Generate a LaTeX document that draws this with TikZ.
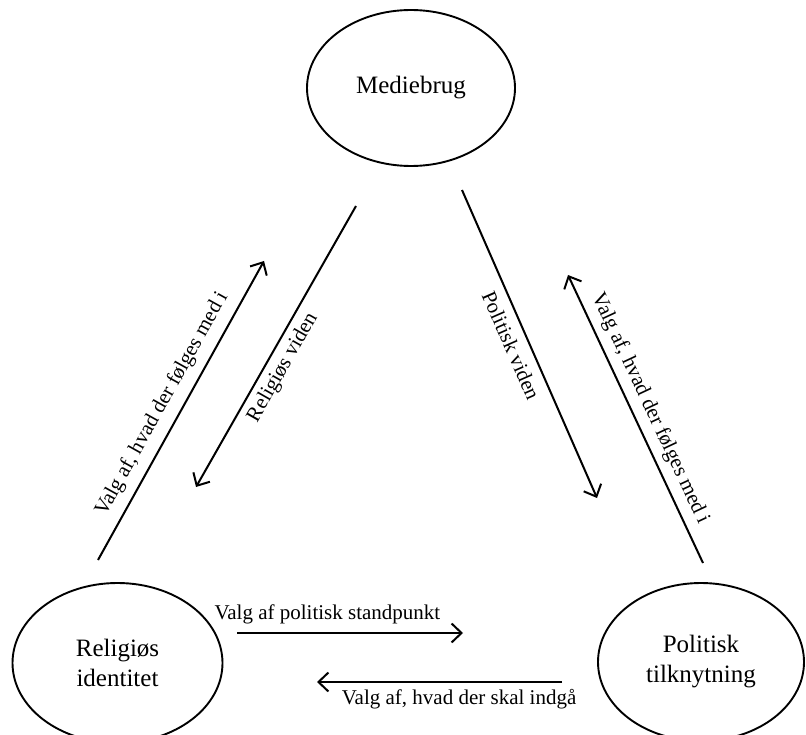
\documentclass[tikz,border=0pt]{standalone}
\usepackage{fontspec}
\setmainfont{Liberation Serif}
\usetikzlibrary{shapes.geometric,arrows.meta}
\begin{document}
\begin{tikzpicture}[x=1pt,y=-1pt,
  ell/.style={draw,ellipse,line width=1.9pt,inner sep=0pt,align=center,font=\fontsize{25}{30}\selectfont},
  conn/.style={line width=2pt},
  tipend/.style={-{Straight Barb[length=10pt,width=19pt]}},
  lbl/.style={font=\fontsize{21}{25}\selectfont,inner xsep=0pt,sloped}
]
\useasboundingbox (0,0) rectangle (806,735);
\node[ell,minimum width=208pt,minimum height=156pt] (med) at (411,88) {Mediebrug};
\node[ell,minimum width=210pt,minimum height=160pt] (rel) at (117.5,663) {Religiøs\\identitet};
\node[ell,minimum width=206pt,minimum height=158pt] (pol) at (701,662) {Politisk\\tilknytning};

\coordinate (a1) at (98,560);  \coordinate (b1) at (264,261);
\coordinate (a2) at (356,206); \coordinate (b2) at (196,487);
\coordinate (a3) at (462,190); \coordinate (b3) at (597,498);
\coordinate (a4) at (703,563); \coordinate (b4) at (568,275);
\coordinate (a5) at (237,633); \coordinate (b5) at (463,633);
\coordinate (a6) at (562,682); \coordinate (b6) at (317,682);

\draw[conn,tipend] (a1) -- node[lbl,pos=0.49,above,inner ysep=9pt] (t1) {Valg af, hvad der følges med i} (b1);
\draw[conn,tipend] (a2) -- node[lbl,pos=0.546,below,inner ysep=6pt] (t2) {Religiøs viden} (b2);
\draw[conn,tipend] (a3) -- node[lbl,pos=0.482,below,inner ysep=9pt] (t3) {Politisk viden} (b3);
\draw[conn,tipend] (a4) -- node[lbl,pos=0.51,above,inner ysep=7pt] (t4) {Valg af, hvad der følges med i} (b4);
\draw[conn,tipend] (a5) -- node[lbl,pos=0.40,above,inner ysep=8pt] (t5) {Valg af politisk standpunkt} (b5);
\draw[conn,tipend] (a6) -- node[lbl,pos=0.42,below,inner ysep=6pt] (t6) {Valg af, hvad der skal indgå} (b6);
\end{tikzpicture}
\end{document}
